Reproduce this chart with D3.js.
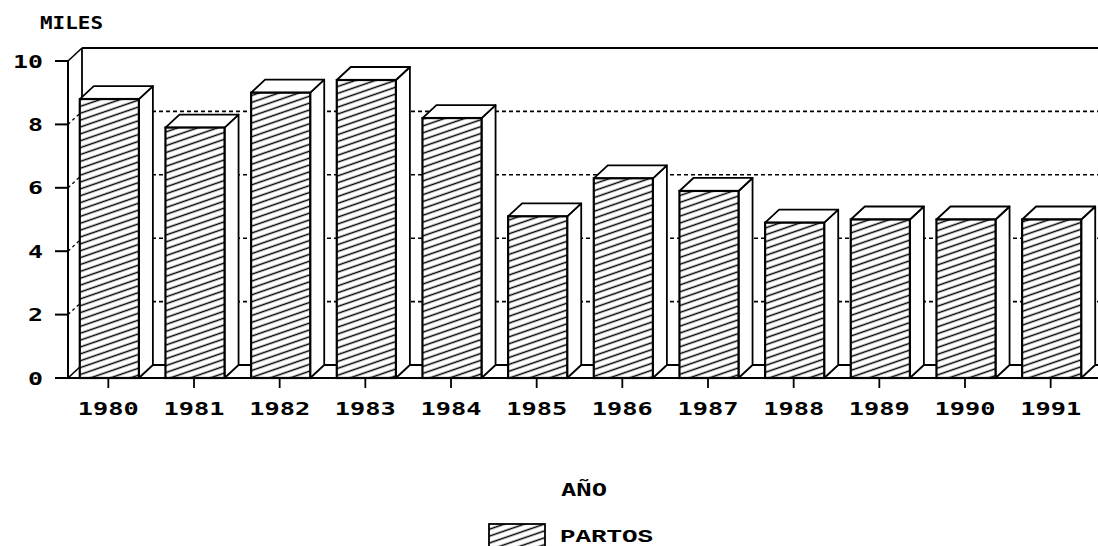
<!DOCTYPE html>
<html><head><meta charset="utf-8">
<script src="https://cdn.jsdelivr.net/npm/d3@7"></script>
<style>body{margin:0;background:#fff}</style>
</head><body>
<svg id="c" width="1098" height="546"></svg>
<script>
const years = ["1980","1981","1982","1983","1984","1985","1986","1987","1988","1989","1990","1991"];
const partos = [8.8, 7.9, 9.0, 9.4, 8.2, 5.1, 6.3, 5.9, 4.9, 5.0, 5.0, 5.0];
const yTicks = [0, 2, 4, 6, 8, 10];
const yTickLabels = ["0","2","4","6","8","10"];
const yTitle = "MILES";
const xTitle = "AÑO";
const seriesName = "PARTOS";

const svg = d3.select("#c");
const font = "'DejaVu Sans Mono', monospace";
const dx = 14, dy = 13;
const x = d3.scaleBand().domain(years).range([66.5, 1094.5]).paddingInner(0.31).paddingOuter(0.155);
const y = d3.scaleLinear().domain([0, 10]).range([378, 61]);
const axX = 68;

const defs = svg.append("defs");
const pat = defs.append("pattern").attr("id","hatch").attr("patternUnits","userSpaceOnUse")
  .attr("width", 10).attr("height", 6.5).attr("patternTransform","rotate(-19)");
pat.append("rect").attr("width",10).attr("height",6.5).attr("fill","#fff");
pat.append("line").attr("x1",0).attr("x2",10).attr("y1",3.25).attr("y2",3.25).attr("stroke","#000").attr("stroke-width",1.5);

const g = svg.append("g");
g.append("line").attr("x1", axX+dx).attr("x2", 1098).attr("y1", y(10)-dy).attr("y2", y(10)-dy)
  .attr("stroke","#000").attr("stroke-width",1.8);
g.append("line").attr("x1", axX+dx).attr("x2", axX+dx).attr("y1", y(10)-dy).attr("y2", y(0)-dy)
  .attr("stroke","#000").attr("stroke-width",1.8);
g.append("line").attr("x1", axX+dx).attr("x2", 1098).attr("y1", y(0)-dy).attr("y2", y(0)-dy)
  .attr("stroke","#000").attr("stroke-width",1.8);
[2,4,6,8].forEach(v => {
  g.append("line").attr("x1", axX+dx).attr("x2", 1098).attr("y1", y(v)-dy).attr("y2", y(v)-dy)
    .attr("stroke","#000").attr("stroke-width",1.6).attr("stroke-dasharray","4,3");
  g.append("line").attr("x1", axX).attr("x2", axX+dx).attr("y1", y(v)).attr("y2", y(v)-dy)
    .attr("stroke","#000").attr("stroke-width",1.3).attr("stroke-dasharray","3,3");
});
g.append("line").attr("x1", axX).attr("x2", axX+dx).attr("y1", y(10)).attr("y2", y(10)-dy).attr("stroke","#000").attr("stroke-width",1.6);
g.append("line").attr("x1", axX).attr("x2", axX+dx).attr("y1", y(0)).attr("y2", y(0)-dy).attr("stroke","#000").attr("stroke-width",1.6);

const bars = g.selectAll("g.bar").data(years.map((yr,i)=>({yr, v: partos[i]}))).enter().append("g");
bars.each(function(d){
  const s = d3.select(this);
  const x0 = x(d.yr), w = x.bandwidth(), yt = y(d.v), yb = y(0);
  s.append("path").attr("d", `M${x0+w},${yt}L${x0+w+dx},${yt-dy}L${x0+w+dx},${yb-dy}L${x0+w},${yb}Z`)
    .attr("fill","#fff").attr("stroke","#000").attr("stroke-width",1.8).attr("stroke-linejoin","round");
  s.append("path").attr("d", `M${x0},${yt}L${x0+dx},${yt-dy}L${x0+w+dx},${yt-dy}L${x0+w},${yt}Z`)
    .attr("fill","#fff").attr("stroke","#000").attr("stroke-width",1.8).attr("stroke-linejoin","round");
  s.append("rect").attr("x", x0).attr("y", yt).attr("width", w).attr("height", yb-yt)
    .attr("fill","url(#hatch)").attr("stroke","#000").attr("stroke-width",2.2);
});

g.append("line").attr("x1", axX).attr("x2", axX).attr("y1", y(10)).attr("y2", y(0)).attr("stroke","#000").attr("stroke-width",2);
g.append("line").attr("x1", 55).attr("x2", 1098).attr("y1", y(0)).attr("y2", y(0)).attr("stroke","#000").attr("stroke-width",2);

yTicks.forEach((v,i) => {
  g.append("line").attr("x1", 55).attr("x2", axX).attr("y1", y(v)).attr("y2", y(v)).attr("stroke","#000").attr("stroke-width",2);
  const lab = yTickLabels[i];
  g.append("text").attr("x", 43).attr("y", y(v)+6.5).attr("text-anchor","end")
    .attr("font-family", font).attr("font-weight","bold").attr("font-size",18)
    .attr("textLength", 15*lab.length).attr("lengthAdjust","spacingAndGlyphs").text(lab);
});
years.forEach(yr => {
  const cx = x(yr) + x.bandwidth()/2 - 1;
  g.append("line").attr("x1", cx).attr("x2", cx).attr("y1", y(0)).attr("y2", y(0)+10).attr("stroke","#000").attr("stroke-width",1.8);
  g.append("text").attr("x", cx).attr("y", 414.5).attr("text-anchor","middle")
    .attr("font-family", font).attr("font-weight","bold").attr("font-size",18)
    .attr("textLength", 61).attr("lengthAdjust","spacingAndGlyphs").text(yr);
});

svg.append("text").attr("x", 40).attr("y", 29).attr("font-family", font).attr("font-weight","bold")
  .attr("font-size",17).attr("textLength",63).attr("lengthAdjust","spacingAndGlyphs").text(yTitle);
svg.append("text").attr("x", 584).attr("y", 496).attr("text-anchor","middle").attr("font-family", font).attr("font-weight","bold")
  .attr("font-size",18).attr("textLength",46).attr("lengthAdjust","spacingAndGlyphs").text(xTitle);

svg.append("rect").attr("x", 489).attr("y", 524).attr("width", 56).attr("height", 26)
  .attr("fill","url(#hatch)").attr("stroke","#000").attr("stroke-width",1.8);
svg.append("text").attr("x", 560).attr("y", 541.5).attr("font-family", "'Liberation Mono', monospace").attr("font-weight","bold")
  .attr("font-size",18).attr("textLength",93).attr("lengthAdjust","spacingAndGlyphs").text(seriesName);
</script>
</body></html>
